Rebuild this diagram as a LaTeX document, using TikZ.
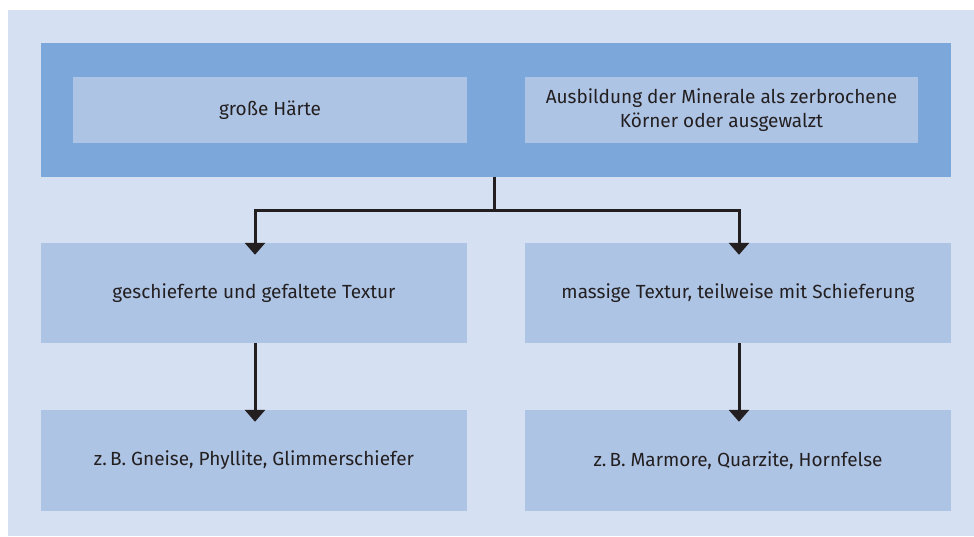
\documentclass[tikz,border=0pt]{standalone}
\usepackage{fontspec}
\setmainfont{Fira Sans}
\usetikzlibrary{arrows.meta}
\definecolor{bglight}{HTML}{D5E0F2}
\definecolor{bgdark}{HTML}{7BA7DA}
\definecolor{boxfill}{HTML}{AEC4E5}
\definecolor{linecol}{HTML}{231F20}
\begin{document}
\begin{tikzpicture}[x=1pt,y=-1pt,
  box/.style={fill=boxfill,draw=none,inner sep=0pt,align=center,font=\fontsize{19}{24}\selectfont,text=linecol},
  conn/.style={draw=linecol,line width=3pt},
  arr/.style={conn,-{Triangle[width=20pt,length=12pt]},shorten >=-12pt}]
\useasboundingbox (0,0) rectangle (974,536);
\fill[white] (0,0) rectangle (974,536);
\fill[bglight] (8,10) rectangle (974,536);
\node[fill=bgdark,minimum width=910pt,minimum height=134pt,inner sep=0pt] (top) at (496,110) {};
\node[box,minimum width=394pt,minimum height=66pt] (a) at (270,110) {große Härte};
\node[box,minimum width=393pt,minimum height=66pt] (b) at (721.5,110) {Ausbildung der Minerale als zerbrochene\\Körner oder ausgewalzt};
\node[box,minimum width=426pt,minimum height=100pt] (c) at (254,293) {geschieferte und gefaltete Textur};
\node[box,minimum width=426pt,minimum height=100pt] (d) at (738,293) {massige Textur, teilweise mit Schieferung};
\node[box,minimum width=426pt,minimum height=101pt] (e) at (254,460.5) {z.\,B. Gneise, Phyllite, Glimmerschiefer};
\node[box,minimum width=426pt,minimum height=101pt] (f) at (738,460.5) {z.\,B. Marmore, Quarzite, Hornfelse};
\coordinate (j) at (494,210);
\draw[conn] (494,177) -- (j);
\draw[arr] (j) -| (c.north -| 255,0);
\draw[arr] (j) -| (d.north -| 739,0);
\draw[arr] (c.south -| 255,0) -- (e.north -| 255,0);
\draw[arr] (d.south -| 739,0) -- (f.north -| 739,0);
\end{tikzpicture}
\end{document}
